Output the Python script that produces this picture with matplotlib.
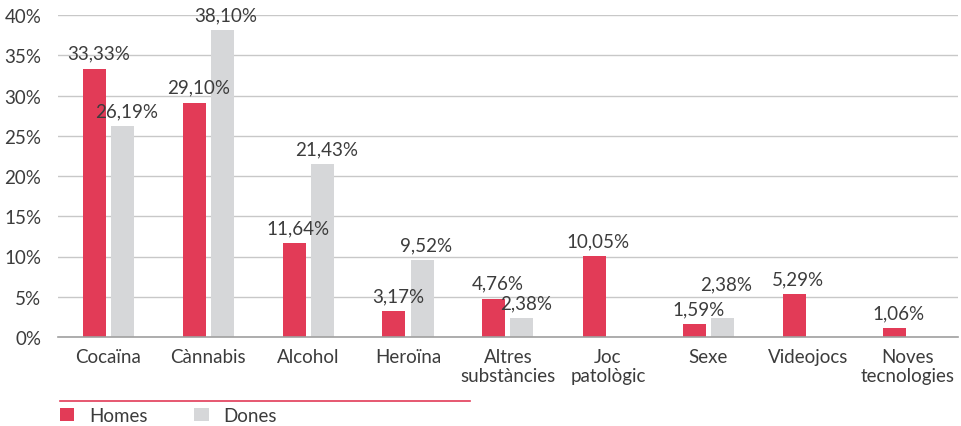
import matplotlib
matplotlib.use("Agg")
import matplotlib.pyplot as plt
from matplotlib.lines import Line2D
import numpy as np

categories = ["Cocaïna", "Cànnabis", "Alcohol", "Heroïna", "Altres\nsubstàncies",
              "Joc\npatològic", "Sexe", "Videojocs", "Noves\ntecnologies"]
homes = [33.33, 29.10, 11.64, 3.17, 4.76, 10.05, 1.59, 5.29, 1.06]
dones = [26.19, 38.10, 21.43, 9.52, 2.38, None, 2.38, None, None]
yticks = [0, 5, 10, 15, 20, 25, 30, 35, 40]

RED = "#E23B57"
GREY = "#D6D7D9"
TXT = "#3C3C3C"
FS = 13.5

plt.rcParams['font.family'] = ['Lato', 'DejaVu Sans']

fig = plt.figure(figsize=(9.62, 4.27), dpi=100)
ax = fig.add_axes([58/962, 1-338/427, 900/962, (338-16)/427])

x = np.arange(len(categories))
w = 0.23
off = 0.14
hx = x - off
dx = x + off
bh = ax.bar(hx, homes, width=w, color=RED, zorder=3, label="Homes")
dvals = [v if v is not None else 0 for v in dones]
bd = ax.bar(dx, dvals, width=w, color=GREY, zorder=3, label="Dones")
for i, b in enumerate(bd):
    if dones[i] is None:
        b.set_visible(False)

def fmt(v):
    return f"{v:.2f}".replace(".", ",") + "%"

for xi, v in zip(hx, homes):
    ax.annotate(fmt(v), (xi, v), xytext=(3, 5), textcoords="offset points",
                ha="center", va="bottom", fontsize=FS, color=TXT, zorder=4)
for i, (xi, v) in enumerate(zip(dx, dones)):
    if v is not None:
        dy = 18 if i == 6 else 5
        ax.annotate(fmt(v), (xi, v), xytext=(3, dy), textcoords="offset points",
                    ha="center", va="bottom", fontsize=FS, color=TXT, zorder=4)

ax.set_xlim(-0.5, len(categories) - 0.5)
ax.set_ylim(0, 40)
ax.set_yticks(yticks)
ax.set_yticklabels([f"{t}%" for t in yticks])
ax.set_xticks(x)
ax.set_xticklabels(categories, linespacing=1.1)
ax.tick_params(axis="both", length=0, labelsize=FS, colors=TXT)
ax.tick_params(axis="y", pad=12)
ax.tick_params(axis="x", pad=8)
ax.yaxis.grid(True, color="#C8C8C8", linewidth=1, zorder=0)
for s in ["top", "right", "left"]:
    ax.spines[s].set_visible(False)
ax.spines["bottom"].set_color("#A0A0A0")
ax.spines["bottom"].set_linewidth(1.2)
ax.spines["bottom"].set_zorder(5)

fig.add_artist(Line2D([60/962, 470/962], [1-402/427, 1-402/427], color=RED, linewidth=1.2))

leg = fig.legend(handles=[bh, bd], labels=["Homes", "Dones"], loc="upper left",
                 bbox_to_anchor=(60/962, 1-408/427), ncol=2, frameon=False,
                 handlelength=0.75, handleheight=0.75, handletextpad=0.8,
                 columnspacing=2.5, fontsize=FS, borderaxespad=0, borderpad=0)
for t in leg.get_texts():
    t.set_color(TXT)

fig.savefig("out.png", dpi=100)
